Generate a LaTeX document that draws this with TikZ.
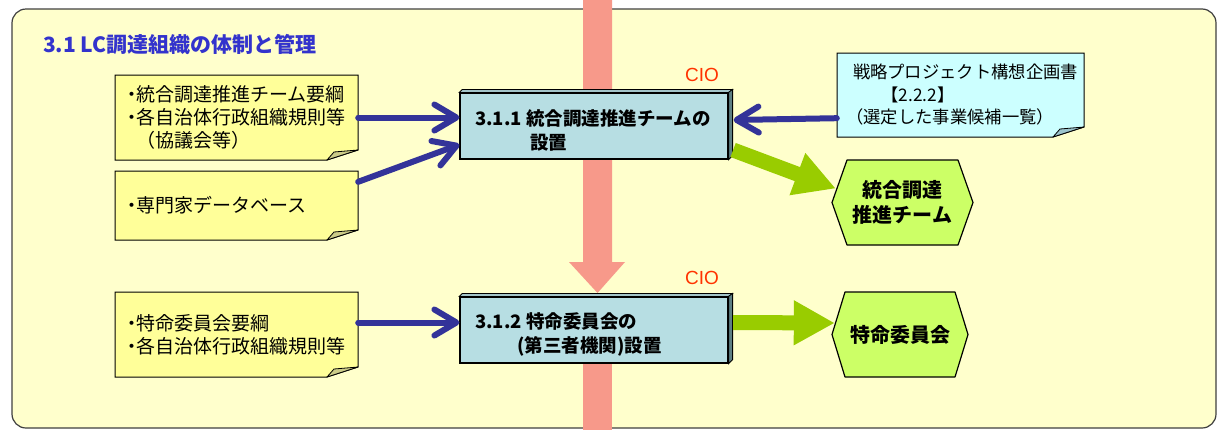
\documentclass[tikz,border=0pt]{standalone}
\usepackage{fontspec}
\setmainfont{Noto Sans CJK JP}[RawFeature=+halt]
\newfontfamily\arialf{Liberation Sans}
\usetikzlibrary{arrows.meta,calc}
\definecolor{bgfill}{HTML}{FFFFCC}
\definecolor{bgdraw}{HTML}{404040}
\definecolor{titleblue}{HTML}{3333CC}
\definecolor{notey}{HTML}{FFFF99}
\definecolor{foldy}{HTML}{CCCC88}
\definecolor{notec}{HTML}{CCFFFF}
\definecolor{foldc}{HTML}{9CC4CC}
\definecolor{boxfill}{HTML}{B7DEE3}
\definecolor{boxside}{HTML}{5E7F84}
\definecolor{boxtop}{HTML}{A3C4C9}
\definecolor{hexfill}{HTML}{CCFF66}
\definecolor{arrgreen}{HTML}{99CC00}
\definecolor{arrblue}{HTML}{333399}
\definecolor{redband}{HTML}{F7998A}
\definecolor{ciored}{HTML}{FF3300}
\tikzset{
  notebox/.style={draw=none, minimum width=243pt, text width=219pt, inner xsep=12pt, inner ysep=0pt, align=left, font=\fontsize{19}{23}\selectfont},
  procbox/.style={draw=black, line width=1.2pt, fill=boxfill, minimum width=268pt, minimum height=66pt, inner sep=0pt},
  proctext/.style={anchor=west, align=left, inner sep=0pt, font=\bfseries\fontsize{18.5}{24}\selectfont},
  hextext/.style={draw=none, inner sep=0pt, align=center, font=\bfseries\fontsize{20}{25}\selectfont},
  ciolabel/.style={text=ciored, inner sep=0pt, font=\arialf\fontsize{19}{22}\selectfont},
  bluearrow/.style={draw=arrblue, line width=6pt, line cap=round, -{Straight Barb[length=22pt, width=26pt, line cap=round, line join=round]}},
  greenarrow/.style={draw=arrgreen, line width=15pt, -{Triangle[length=41pt, width=42pt]}},
  notepaper/.style={draw=black, line width=1pt},
  foldflap/.style={draw=black, line width=0.8pt, line join=round},
  hexshape/.style={draw=black, line width=1.2pt, fill=hexfill, line join=round},
}
\newcommand\mynote[6]{%
  \filldraw[notepaper, fill=#5] (#1,#2) -- (#3,#2) -- (#3,#4-10) -- (#3-31,#4) -- (#1,#4) -- cycle;
  \filldraw[foldflap, fill=#6] (#3,#4-10) -- (#3-31,#4) -- (#3-24,#4-8) -- cycle;}
\newcommand\bevel[1]{%
  \filldraw[draw=black, line width=0.8pt, fill=boxtop] (#1.north west) -- ($(#1.north west)+(3,-3)$) -- ($(#1.north east)+(4,-3)$) -- (#1.north east) -- cycle;
  \filldraw[draw=black, line width=0.8pt, fill=boxside] (#1.north east) -- ($(#1.north east)+(4,-3)$) -- ($(#1.south east)+(4,-4)$) -- (#1.south east) -- cycle;}
\begin{document}
\begin{tikzpicture}[x=1pt, y=-1pt]
\useasboundingbox (0,0) rectangle (1218,429);
% background panel
\filldraw[fill=bgfill, draw=bgdraw, line width=1.2pt, rounded corners=14pt] (12,9) rectangle (1216,428);
% red band arrow
\fill[redband] (583,-2) -- (612,-2) -- (612,262) -- (625,262) -- (597.5,293) -- (569,262) -- (583,262) -- cycle;
\fill[redband] (583,300) rectangle (612,431);
% title
\node[anchor=west, inner sep=0pt, text=titleblue, font=\bfseries\fontsize{21}{24}\selectfont] (title) at (43,44) {3.1 LC調達組織の体制と管理};
% notes
\mynote{115}{75}{358}{160}{notey}{foldy}
\mynote{115}{171}{358}{240}{notey}{foldy}
\mynote{115}{292}{358}{377}{notey}{foldy}
\mynote{837}{53}{1084}{137}{notec}{foldc}
\node[notebox, minimum height=85pt] (n1) at (236.5,117.5) {・統合調達推進チーム要綱\\・各自治体行政組織規則等\\　（協議会等）};
\node[notebox, minimum height=69pt] (n2) at (236.5,205.5) {・専門家データベース};
\node[notebox, minimum height=85pt] (n3) at (236.5,334.5) {・特命委員会要綱\\・各自治体行政組織規則等};
\node[draw=none, minimum width=247pt, minimum height=84pt, text width=215pt, inner xsep=16pt, inner ysep=0pt, align=left, font=\fontsize{17.3}{22.5}\selectfont] (nc) at (960.5,95) {戦略プロジェクト構想企画書\\\hspace*{37pt}【2.2.2】\\\hspace*{2pt}（選定した事業候補一覧）};
% process boxes
\node[procbox] (b1) at (594,126) {};
\bevel{b1}
\node[proctext] (b1t) at (475,130) {3.1.1 統合調達推進チームの\\\hspace*{55pt}設置};
\node[procbox] (b2) at (594,330) {};
\bevel{b2}
\node[proctext] (b2t) at (475,334) {3.1.2 特命委員会の\\\hspace*{42pt}(第三者機関)設置};
\node[ciolabel] (c1) at (702,75) {CIO};
\node[ciolabel] (c2) at (702,278) {CIO};
% hexagons
\filldraw[hexshape] (832,202.5) -- (847,160) -- (958,160) -- (973,202.5) -- (958,245) -- (847,245) -- cycle;
\node[hextext, minimum width=141pt, minimum height=85pt] (h1) at (902.5,202.5) {統合調達\\推進チーム};
\filldraw[hexshape] (832,334.5) -- (845,292) -- (955,292) -- (968,334.5) -- (955,377) -- (845,377) -- cycle;
\node[hextext, minimum width=136pt, minimum height=85pt] (h2) at (900,334.5) {特命委員会};
% blue connectors
\coordinate (a1s) at ($(n1.east)+(0,0)$);
\draw[bluearrow] (a1s) -- (a1s -| b1.west);
\draw[bluearrow] ($(n2.north east)+(0,11)$) -- ($(b1.south west)+(0,-15)$);
\draw[bluearrow] ($(nc.south west)+(0,-19)$) -- ($(b1.east)+(5,-6)$);
\coordinate (a4s) at ($(n3.east)+(0,-12)$);
\draw[bluearrow] (a4s) -- (a4s -| b2.west);
% green connectors
\draw[greenarrow] ($(b1.east)+(4.5,24)$) -- ($(h1.west)+(4,-14)$);
\draw[greenarrow] ($(b2.east)+(4.5,-7.5)$) -- ($(h2.west)+(3,-11.5)$);
\end{tikzpicture}
\end{document}
